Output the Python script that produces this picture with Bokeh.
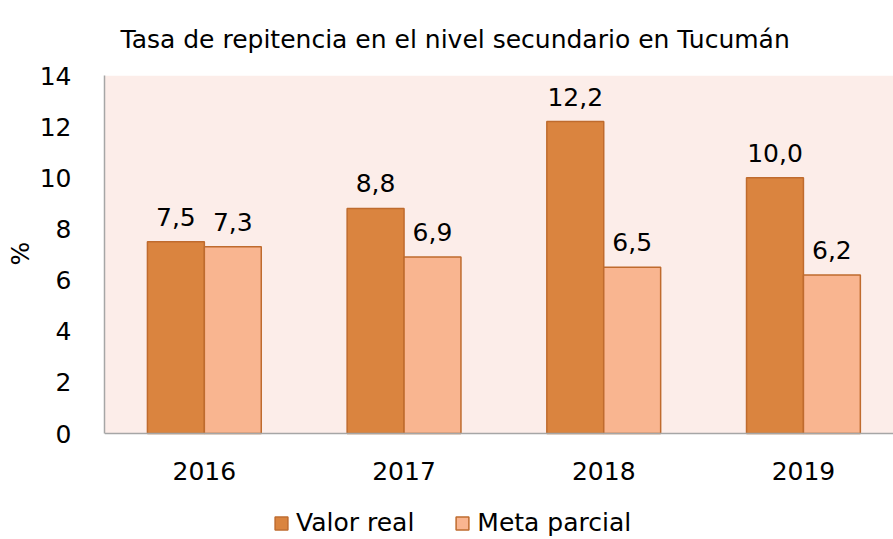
from bokeh.plotting import figure
from bokeh.models import (ColumnDataSource, Legend, LegendItem, Range1d, Title,
                          FixedTicker, BoxAnnotation)
from bokeh.core.properties import value
from bokeh.transform import dodge
from bokeh.embed import file_html
from bokeh.resources import INLINE

# ---- data ----
years = ["2016", "2017", "2018", "2019"]
valor_real = [7.5, 8.8, 12.2, 10.0]
meta_parcial = [7.3, 6.9, 6.5, 6.2]
y_ticks = [0, 2, 4, 6, 8, 10, 12, 14]
title_text = "Tasa de repitencia en el nivel secundario en Tucumán"
y_label = "%"

FONT = "DejaVu Sans"
DARK = "#DA843F"
LIGHT = "#F9B590"
EDGE = "#BF6B2E"
BG = "#FCEDE9"
AXIS = "#A6A6A6"

Y_MIN, Y_MAX = 0, 14
idx = list(range(len(years)))
fmt = lambda v: f"{v:.1f}".replace(".", ",")
src = ColumnDataSource(dict(
    x=idx, real=valor_real, meta=meta_parcial,
    real_lbl=[fmt(v) for v in valor_real],
    meta_lbl=[fmt(v) for v in meta_parcial],
))

# the frame also holds the area under the x axis, where the legend sits
p = figure(width=893, height=539, output_backend="svg", toolbar_location=None,
           x_range=Range1d(-0.5, 3.451), y_range=Range1d(-4.145, Y_MAX),
           min_border_left=104, min_border_right=0, min_border_top=75,
           min_border_bottom=0, background_fill_color="white",
           border_fill_color="white", outline_line_color=None)

p.add_layout(BoxAnnotation(bottom=Y_MIN, top=Y_MAX, fill_color=BG, fill_alpha=1,
                           line_color=None, level="underlay"))

p.add_layout(Title(text=title_text, align="left", offset=16, text_font=FONT,
                   text_font_size="25px", text_font_style="normal",
                   text_color="#000000", standoff=44), "above")

W = 0.285
r1 = p.vbar(x=dodge("x", -W / 2, range=p.x_range), top="real", width=W, source=src,
            fill_color=DARK, line_color=EDGE, line_width=1.5)
r2 = p.vbar(x=dodge("x", W / 2, range=p.x_range), top="meta", width=W, source=src,
            fill_color=LIGHT, line_color=EDGE, line_width=1.5)

p.text(x=dodge("x", -W / 2, range=p.x_range), y="real", text="real_lbl", source=src,
       text_font=value(FONT), text_font_size="25px", text_align="center",
       text_baseline="bottom", y_offset=-16, text_color="#000000")
p.text(x=dodge("x", W / 2, range=p.x_range), y="meta", text="meta_lbl", source=src,
       text_font=value(FONT), text_font_size="25px", text_align="center",
       text_baseline="bottom", y_offset=-16, text_color="#000000")

# axes
p.xgrid.visible = False
p.ygrid.visible = False
xa = p.xaxis[0]
xa.fixed_location = Y_MIN
xa.ticker = FixedTicker(ticks=idx)
xa.major_label_overrides = {i: y for i, y in zip(idx, years)}
xa.major_tick_line_color = None
xa.minor_tick_line_color = None
xa.axis_line_color = AXIS
xa.axis_line_width = 1.5
xa.major_label_text_font = FONT
xa.major_label_text_font_size = "25px"
xa.major_label_text_color = "#000000"
xa.major_label_standoff = 22

ya = p.yaxis[0]
ya.bounds = (Y_MIN, Y_MAX)
ya.ticker = FixedTicker(ticks=y_ticks)
ya.major_tick_line_color = None
ya.minor_tick_line_color = None
ya.axis_line_color = AXIS
ya.axis_line_width = 1.5
ya.major_label_text_font = FONT
ya.major_label_text_font_size = "25px"
ya.major_label_text_color = "#000000"
ya.major_label_standoff = 27

# "%" axis title, centred on the 0..14 span (frame extends below for the legend)
p.add_layout(Title(text=y_label, align="left", offset=274, text_font=FONT,
                   text_font_size="25px", text_font_style="normal",
                   text_color="#000000", standoff=4), "left")

legend = Legend(items=[LegendItem(label="Valor real", renderers=[r1]),
                       LegendItem(label="Meta parcial", renderers=[r2])],
                orientation="horizontal", location=(169, 2),
                glyph_width=16, glyph_height=16, label_standoff=7, spacing=40,
                padding=0, margin=0, border_line_color=None,
                background_fill_alpha=0, label_text_font=FONT,
                label_text_font_size="25px", label_text_color="#000000")
p.add_layout(legend, "center")

open("out.html", "w").write(file_html(p, INLINE))
